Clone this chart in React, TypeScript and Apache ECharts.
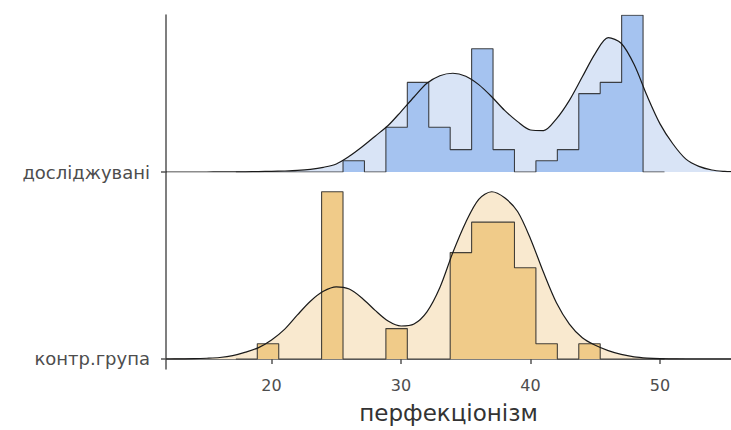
import React, { useEffect, useRef } from "react";
import * as echarts from "echarts";

// Shared x range and histogram bins
const xMin = 11.85;
const xMax = 55.48;
const xTicks = [20, 30, 40, 50];
const binStart = 17.245;
const binWidth = 1.655;

// Group labels
const groups = ["досліджувані", "контр.група"];

// Histogram counts per bin
const blueCounts = [0, 0, 0, 0, 0, 1, 0, 4, 8, 4, 2, 11, 2, 0, 1, 2, 7, 8, 14, 0];
const orangeCounts = [0, 1, 0, 0, 11, 0, 0, 2, 0, 0, 7, 9, 9, 6, 1, 0, 1, 0, 0, 0];

// Density curves (scaled to count units), sampled at these x values
const densX = [11.85, 13, 14, 15, 16, 17, 18, 19, 20, 21, 22, 23, 24, 25, 26, 27, 28, 29, 30, 31, 32, 33, 34, 35, 36, 37, 38, 39, 40, 41, 42, 43, 44, 45, 46, 47, 48, 49, 50, 51, 52, 53, 54, 55, 55.48];
const blueDensY = [0, 0, 0, 0, 0.01, 0.01, 0.02, 0.04, 0.06, 0.09, 0.14, 0.24, 0.42, 0.72, 1.4, 2.25, 3.2, 4.15, 5.4, 6.7, 7.92, 8.6, 8.82, 8.55, 7.8, 6.72, 5.5, 4.5, 3.75, 3.7, 4.75, 6.4, 8.5, 10.6, 12.0, 11.5, 9.6, 6.8, 4.3, 2.5, 1.15, 0.5, 0.18, 0.05, 0.03];
const orangeDensY = [0, 0.01, 0.02, 0.05, 0.1, 0.22, 0.45, 0.75, 1.25, 1.95, 2.9, 3.8, 4.45, 4.75, 4.6, 4.0, 3.2, 2.5, 2.17, 2.3, 3.1, 4.7, 7.0, 9.0, 10.5, 11.0, 10.6, 9.7, 7.9, 5.7, 3.7, 2.3, 1.4, 0.9, 0.55, 0.3, 0.14, 0.06, 0.02, 0.01, 0, 0, 0, 0, 0];

function stepPoints(counts: number[]) {
  const pts: number[][] = [[binStart, 0]];
  counts.forEach((c, i) => {
    const a = binStart + i * binWidth;
    pts.push([a, c], [a + binWidth, c]);
  });
  pts.push([binStart + counts.length * binWidth, 0]);
  return pts;
}

function zip(xs: number[], ys: number[]) {
  return xs.map((x, i) => [x, ys[i]]);
}

const FONT = "DejaVu Sans";

export default function App() {
  const ref = useRef<HTMLDivElement>(null);
  useEffect(() => {
    if (!ref.current) return;
    const chart = echarts.init(ref.current, null, { renderer: "svg" });
    const axisLineStyle = { color: "#555", width: 1.5 };
    const yAxisBase = (label: string, min: number, max: number, gridIndex: number) => ({
      type: "value",
      gridIndex,
      min,
      max,
      splitLine: { show: false },
      axisLine: { show: true, lineStyle: axisLineStyle },
      axisTick: { show: true, customValues: [0], length: 5, lineStyle: axisLineStyle },
      axisLabel: {
        show: true,
        customValues: [0],
        showMinLabel: true,
        formatter: () => label,
        color: "#4d4d4d",
        fontSize: 18,
        fontFamily: FONT,
        margin: 16,
      },
    });
    const densArea = (data: number[][], color: string, idx: number) => ({
      type: "line",
      xAxisIndex: idx,
      yAxisIndex: idx,
      data,
      smooth: 0.3,
      symbol: "none",
      lineStyle: { width: 0 },
      areaStyle: { color, opacity: 1 },
      z: 1,
      silent: true,
    });
    const densLine = (data: number[][], idx: number) => ({
      type: "line",
      xAxisIndex: idx,
      yAxisIndex: idx,
      data,
      smooth: 0.3,
      symbol: "none",
      lineStyle: { color: "#1a1a1a", width: 1.2 },
      z: 4,
      silent: true,
    });
    const hist = (counts: number[], color: string, idx: number) => ({
      type: "line",
      xAxisIndex: idx,
      yAxisIndex: idx,
      data: stepPoints(counts),
      symbol: "none",
      lineStyle: { color: "rgba(35,35,35,0.85)", width: 1.1 },
      areaStyle: { color, opacity: 1 },
      z: 2,
      silent: true,
    });
    chart.setOption({
      animation: false,
      backgroundColor: "#ffffff",
      grid: [
        { left: 166, right: 0, top: 15, height: 157 },
        { left: 166, right: 0, top: 172, bottom: 61 },
      ],
      xAxis: [
        { type: "value", gridIndex: 0, min: xMin, max: xMax, show: false, splitLine: { show: false } },
        {
          type: "value",
          gridIndex: 1,
          min: xMin,
          max: xMax,
          splitLine: { show: false },
          axisLine: { show: true, lineStyle: axisLineStyle },
          axisTick: { show: true, customValues: xTicks, length: 5, lineStyle: axisLineStyle },
          axisLabel: {
            customValues: xTicks,
            color: "#4d4d4d",
            fontSize: 16,
            fontFamily: FONT,
            margin: 8,
          },
          name: "перфекціонізм",
          nameLocation: "middle",
          nameGap: 32,
          nameTextStyle: { color: "#333", fontSize: 23, fontFamily: FONT },
        },
      ],
      yAxis: [
        yAxisBase(groups[0], 0, 14.02, 0),
        yAxisBase(groups[1], -0.658, 12.3, 1),
      ],
      series: [
        densArea(zip(densX, blueDensY), "#d9e4f6", 0),
        hist(blueCounts, "#a5c3f0", 0),
        densLine(zip(densX, blueDensY), 0),
        densArea(zip(densX, orangeDensY), "#f9e9cf", 1),
        hist(orangeCounts, "#f0cb89", 1),
        densLine(zip(densX, orangeDensY), 1),
      ],
    });
    return () => chart.dispose();
  }, []);
  return <div ref={ref} style={{ width: 731, height: 430, position: "fixed", left: 0, top: 0 }} />;
}
